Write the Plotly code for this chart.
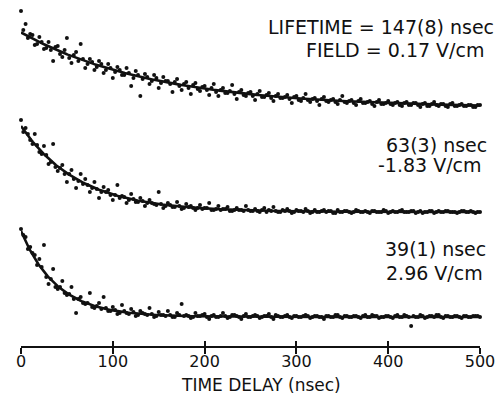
import numpy as np
import plotly.graph_objects as go

# Time grids of the recorded points (ns): main channel and interleaved channel
delay_ns = list(range(0, 501, 5))
delay_ns_mid = [t + 2.5 for t in range(0, 500, 5)]

# Fitted lifetimes and applied fields for the three traces (top to bottom)
lifetimes_ns = [147, 63, 39]
lifetime_errs = [8, 3, 1]
fields_v_cm = ["0.17", "-1.83", "2.96"]

# Vertical offset and initial amplitude of each trace (arb. units)
baselines = [238, 134, 29]
amplitudes = [75.5, 86, 86]

# Measured signal above each trace's baseline (arb. units), main channel
signal_a = [97, 84, 74, 63, 71, 59, 66, 47, 62, 51, 70, 45, 56, 64, 40, 49, 38, 47, 35, 44,
            30, 41, 33, 40, 22, 37, 12, 34, 24, 33, 20, 31, 27, 16, 29, 18, 26, 14, 25, 17,
            22, 13, 24, 12, 20, 15, 23, 9, 18, 12, 16, 8, 17, 11, 15, 7, 14, 10, 13, 5,
            12, 7, 14, 6, 10, 3, 11, 6, 9, 4, 12, 5, 8, 3, 9, 5, 7, 2, 8, 4,
            7, 3, 6, 2, 6, 3, 5, 1, 5, 2, 6, 2, 4, 1, 5, 2, 4, 2, 3, 1, 3]
signal_b = [92, 84, 72, 78, 60, 66, 48, 68, 41, 47, 30, 42, 24, 38, 33, 20, 30, 14, 25, 22,
            12, 27, 16, 9, 18, 10, 14, 6, 12, 8, 20, 4, 9, 5, 10, 3, 8, 6, 2, 7,
            4, 9, 2, 6, 3, 5, 1, 4, 2, 6, 1, 3, 0, 4, 2, 5, 0, 2, 3, -1,
            2, 1, 3, -1, 2, 0, 2, 1, -1, 2, 0, 1, -1, 2, 0, 1, -1, 1, 0, 2,
            -1, 1, 0, 2, 0, 1, -1, 1, 0, 1, -1, 1, 0, 1, 0, -1, 1, 0, 1, -1, 0]
signal_c = [88, 80, 70, 62, 58, 72, 33, 48, 28, 36, 22, 30, 4, 20, 13, 24, 9, 14, 20, 6,
            10, 3, 12, 4, 8, 1, 6, 3, 9, 0, 5, 2, 6, 0, 4, 13, 2, -1, 4, 1,
            3, -2, 2, 0, 4, -1, 2, 1, -2, 3, 0, 2, -1, 1, 3, -2, 1, 0, 2, -1,
            1, 0, 2, -1, 1, 0, -2, 1, 0, 2, -1, 1, 0, 1, -1, 2, 0, 1, -1, 0,
            1, -1, 2, 0, 1, -9, 0, 2, -1, 1, 0, 2, -1, 1, 0, 1, -1, 1, 0, 1, 0]

# Measured signal above each trace's baseline (arb. units), interleaved channel
signal_a_mid = [78, 70, 73, 64, 66, 60, 58, 61, 54, 58, 50, 53, 47, 49, 44, 46, 41, 44, 38, 40,
                36, 38, 33, 35, 30, 33, 29, 31, 27, 30, 25, 27, 24, 26, 22, 24, 20, 23, 19, 21,
                18, 20, 16, 18, 15, 17, 14, 16, 13, 15, 12, 14, 11, 13, 10, 12, 10, 11, 9, 11,
                8, 10, 8, 9, 7, 9, 7, 8, 6, 8, 6, 7, 5, 7, 5, 6, 4, 6, 4, 5,
                4, 5, 3, 5, 3, 5, 3, 4, 2, 4, 3, 4, 2, 4, 2, 3, 2, 3, 1, 3]
signal_b_mid = [80, 78, 68, 67, 58, 57, 50, 45, 44, 38, 38, 33, 31, 28, 27, 24, 23, 20, 20, 17,
                17, 14, 15, 12, 13, 10, 11, 9, 9, 7, 8, 6, 7, 5, 6, 4, 5, 4, 4, 3,
                4, 2, 3, 2, 3, 1, 2, 2, 1, 2, 1, 1, 2, 0, 1, 1, 0, 1, 1, 0,
                1, 0, 1, 0, 0, 1, 0, 1, -1, 0, 1, 0, 0, 1, 0, 0, 1, 0, 0, 1,
                0, 0, 1, 0, 0, 1, 0, -1, 0, 1, 0, 0, 1, 0, 0, 0, 1, 0, 0, 0]
signal_c_mid = [82, 68, 64, 52, 50, 40, 38, 30, 30, 24, 23, 18, 18, 14, 14, 10, 11, 8, 9, 6,
                7, 4, 6, 3, 5, 2, 4, 2, 3, 1, 2, 1, 2, 0, 2, 1, 1, 0, 1, 2,
                0, 1, 0, 1, 1, 0, 2, 0, 1, 0, 1, 1, 0, 1, 0, 2, 0, 1, 0, 1,
                0, 1, 1, 0, 1, 0, 1, 0, 2, 0, 1, 0, 1, 0, 1, 0, 2, 1, 0, 1,
                0, 1, 0, 2, 0, 1, 0, 1, 0, 1, 2, 0, 1, 0, 1, 0, 1, 0, 1, 1]

signals = [signal_a, signal_b, signal_c]
signals_mid = [signal_a_mid, signal_b_mid, signal_c_mid]

# Axis ticks
tick_vals = [0, 100, 200, 300, 400, 500]
tick_text = ["0", "100", "200", "300", "400", "500"]

FONT = "DejaVu Sans"
INK = "#111111"

fig = go.Figure()

dot_style = dict(size=4, color=INK, line=dict(width=0))
t_fit = np.linspace(0, 500, 501)
for base, amp, tau, sig, sig_mid in zip(baselines, amplitudes, lifetimes_ns, signals, signals_mid):
    for xs, ys in ((delay_ns, sig), (delay_ns_mid, sig_mid)):
        fig.add_trace(go.Scatter(
            x=xs, y=base + np.asarray(ys, dtype=float), mode="markers",
            marker=dot_style, cliponaxis=False, showlegend=False, hoverinfo="skip",
        ))
    # Single-exponential fit with the quoted lifetime
    fig.add_trace(go.Scatter(
        x=t_fit, y=base + amp * np.exp(-t_fit / tau), mode="lines",
        line=dict(color=INK, width=2.6), xaxis="x2",
        cliponaxis=False, showlegend=False, hoverinfo="skip",
    ))

# Labels next to each trace
label_rows = [
    (f"LIFETIME = {lifetimes_ns[0]}({lifetime_errs[0]}) nsec", 392.2, 318.7),
    (f"FIELD = {fields_v_cm[0]} V/cm", 407.4, 295.7),
    (f"{lifetimes_ns[1]}({lifetime_errs[1]}) nsec", 452.6, 200.7),
    (f"{fields_v_cm[1]} V/cm", 445.6, 180.7),
    (f"{lifetimes_ns[2]}({lifetime_errs[2]}) nsec", 451.0, 96.7),
    (f"{fields_v_cm[2]} V/cm", 449.9, 72.7),
]
for text, x, y in label_rows:
    fig.add_annotation(x=x, y=y, xref="x", yref="y", text=text, showarrow=False,
                       xanchor="center", yanchor="middle",
                       font=dict(family=FONT, size=19, color=INK))

# Axis title
fig.add_annotation(x=261, y=0, xref="x", yref="paper", yshift=-39,
                   text="TIME DELAY (nsec)", showarrow=False,
                   xanchor="center", yanchor="middle",
                   font=dict(family=FONT, size=17, color=INK))

axis_common = dict(range=[0, 500], tickmode="array", tickvals=tick_vals,
                   showgrid=False, zeroline=False, tickwidth=2, tickcolor=INK)

fig.update_layout(
    width=504, height=417,
    margin=dict(l=21, r=24, t=0, b=71),
    paper_bgcolor="white", plot_bgcolor="white",
    xaxis=dict(**axis_common, ticktext=tick_text, ticks="outside", ticklen=6,
               ticklabelstandoff=-6,
               showline=True, linewidth=2, linecolor=INK,
               tickfont=dict(family=FONT, size=16, color=INK)),
    xaxis2=dict(**axis_common, ticks="inside", ticklen=5, overlaying="x",
                matches="x", anchor="y", side="bottom", showticklabels=False,
                showline=False),
    yaxis=dict(range=[0, 346], visible=False, showgrid=False, zeroline=False),
)

fig.write_html("out.html")
